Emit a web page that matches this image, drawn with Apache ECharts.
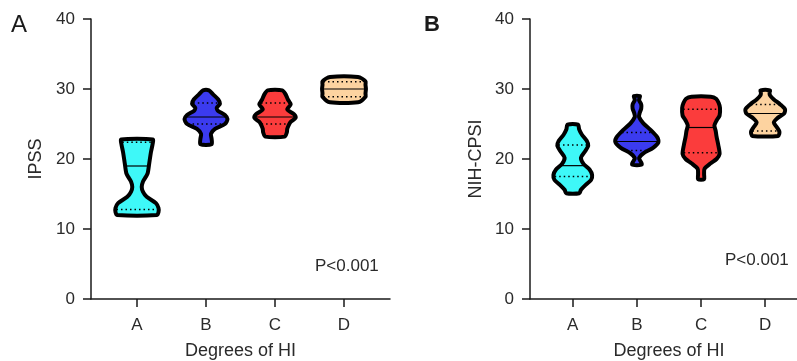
<!DOCTYPE html>
<html>
<head>
<meta charset="utf-8">
<script src="https://cdn.jsdelivr.net/npm/echarts@6/dist/echarts.min.js"></script>
<style>
  html, body { margin: 0; padding: 0; background: #fff; }
  #main { width: 797px; height: 361px; }
</style>
</head>
<body>
<div id="main"></div>
<script>
// categories
var cats = ['A', 'B', 'C', 'D'];

// violin outlines: [value, relative half width]
var ipssA = [[12.0,0.93],[12.4,1.0],[13.0,1.0],[13.7,0.88],[14.6,0.45],[15.3,0.28],[16.0,0.22],[16.8,0.28],[17.5,0.42],[18.0,0.5],[19.4,0.57],[21.0,0.65],[22.2,0.73],[22.8,0.73]];
var ipssB = [[22.1,0.26],[22.9,0.26],[23.6,0.23],[24.3,0.42],[25.0,0.88],[25.7,1.0],[26.3,0.88],[26.9,0.55],[27.3,0.5],[27.9,0.65],[28.5,0.57],[29.2,0.34],[29.8,0.14]];
var ipssC = [[23.2,0.45],[23.8,0.55],[24.3,0.57],[24.9,0.65],[25.3,0.73],[25.9,0.96],[26.4,0.88],[27.1,0.57],[27.8,0.73],[28.5,0.6],[29.2,0.5],[29.8,0.34]];
var ipssD = [[28.1,0.65],[28.9,1.0],[29.4,1.0],[30.0,1.02],[30.6,1.0],[31.1,1.0],[31.7,0.65]];

var cpsiA = [[15.1,0.3],[15.6,0.38],[16.3,0.6],[17.0,0.85],[17.7,0.9],[18.5,0.78],[19.3,0.5],[20.2,0.38],[21.0,0.55],[21.9,0.72],[22.6,0.65],[23.5,0.42],[24.2,0.3],[24.9,0.24]];
var cpsiB = [[19.2,0.22],[19.5,0.2],[20.1,0.1],[20.8,0.3],[21.6,0.75],[22.4,1.0],[23.1,0.95],[24.2,0.62],[25.1,0.3],[26.0,0.1],[26.5,0.12],[27.2,0.2],[27.8,0.2],[28.4,0.1],[28.7,0.12],[29.0,0.14]];
var cpsiC = [[17.1,0.14],[17.8,0.14],[18.6,0.16],[19.4,0.45],[20.0,0.72],[20.7,0.86],[22.0,0.8],[23.2,0.72],[24.0,0.68],[24.8,0.62],[25.5,0.72],[26.2,0.86],[27.3,0.88],[28.0,0.82],[28.6,0.7],[28.9,0.45]];
var cpsiD = [[23.3,0.6],[23.9,0.66],[24.5,0.55],[25.2,0.4],[25.8,0.55],[26.5,0.88],[27.1,0.92],[27.8,0.7],[28.5,0.4],[29.1,0.22],[29.5,0.2],[29.8,0.22]];

// quartiles: [Q1, median, Q3]
var ipssQuart = [[12.8,19.0,22.4],[25.0,26.0,28.0],[25.0,26.0,28.0],[28.9,30.0,31.05]];
var cpsiQuart = [[17.5,19.05,22.0],[21.2,22.5,23.8],[20.9,24.5,27.1],[24.0,26.5,27.8]];

var fills = ['#3ef8f8', '#3b3bef', '#fb3c3c', '#fdd3a0'];

var HALF = 21.5;   // px half width of the widest part

function widthAt(pts, v) {
    for (var i = 0; i < pts.length - 1; i++) {
        if (v >= pts[i][0] && v <= pts[i + 1][0]) {
            var t = (v - pts[i][0]) / (pts[i + 1][0] - pts[i][0]);
            return pts[i][1] + t * (pts[i + 1][1] - pts[i][1]);
        }
    }
    return v < pts[0][0] ? pts[0][1] : pts[pts.length - 1][1];
}

function makeRender(outlines, quarts) {
    return function (params, api) {
        var i = params.dataIndex;
        var pts = outlines[i];
        var x = api.value(0);
        var right = pts.map(function (p) {
            var c = api.coord([x, p[0]]);
            return [c[0] + p[1] * HALF, c[1]];
        });
        var left = pts.slice().reverse().map(function (p) {
            var c = api.coord([x, p[0]]);
            return [c[0] - p[1] * HALF, c[1]];
        });
        var children = [{
            type: 'polygon',
            shape: { points: right.concat(left), smooth: 0.25 },
            style: { fill: fills[i], stroke: '#000', lineWidth: 4, lineJoin: 'round' }
        }];
        quarts[i].forEach(function (q, k) {
            var c = api.coord([x, q]);
            var w = widthAt(pts, q) * HALF - 1;
            children.push({
                type: 'line',
                shape: { x1: c[0] - w, y1: c[1], x2: c[0] + w, y2: c[1] },
                style: k === 1
                    ? { stroke: '#000', lineWidth: 1.2 }
                    : { stroke: '#000', lineWidth: 1.5, lineDash: [1.5, 3] }
            });
        });
        return { type: 'group', children: children };
    };
}

var chart = echarts.init(document.getElementById('main'));

var axisText = { color: '#2a2a2a', fontSize: 17, fontFamily: 'Liberation Sans' };
var axisLine = { lineStyle: { color: '#1a1a1a', width: 1.5 } };

function xAx(idx) {
    return {
        type: 'value', gridIndex: idx, min: 1 / 3, max: 14 / 3,
        name: 'Degrees of HI', nameLocation: 'middle', nameGap: 43,
        nameTextStyle: { color: '#2a2a2a', fontSize: 18, fontFamily: 'Liberation Sans' },
        axisLine: { show: true, onZero: false, lineStyle: axisLine.lineStyle },
        axisTick: { show: true, length: 8, customValues: [1, 2, 3, 4], lineStyle: axisLine.lineStyle },
        axisLabel: Object.assign({ customValues: [1, 2, 3, 4], margin: 18, formatter: function (v) { return cats[v - 1]; } }, axisText),
        splitLine: { show: false }
    };
}
function yAx(idx, name, gap) {
    return {
        type: 'value', gridIndex: idx, min: 0, max: 40, interval: 10,
        name: name, nameLocation: 'middle', nameGap: gap,
        nameTextStyle: { color: '#2a2a2a', fontSize: 18, fontFamily: 'Liberation Sans' },
        axisLine: { show: true, onZero: false, lineStyle: axisLine.lineStyle },
        axisTick: { show: true, length: 8, lineStyle: axisLine.lineStyle },
        axisLabel: Object.assign({ margin: 16 }, axisText),
        splitLine: { show: false }
    };
}

var option = {
    animation: false,
    grid: [
        { left: 91, top: 19, width: 299, height: 280, outerBoundsMode: 'none', containLabel: false },
        { left: 530, top: 19, width: 278, height: 280, outerBoundsMode: 'none', containLabel: false }
    ],
    xAxis: [xAx(0), xAx(1)],
    yAxis: [yAx(0, 'IPSS', 46), yAx(1, 'NIH-CPSI', 45)],
    graphic: [
        { type: 'text', left: 11, top: 13, style: { text: 'A', fontSize: 24, fill: '#1a1a1a', fontFamily: 'Liberation Sans' } },
        { type: 'text', left: 424, top: 14, style: { text: 'B', fontSize: 22, fontWeight: 'bold', fill: '#1a1a1a', fontFamily: 'Liberation Sans' } },
        { type: 'text', left: 315, top: 258, style: { text: 'P<0.001', fontSize: 17, fill: '#2a2a2a', fontFamily: 'Liberation Sans' } },
        { type: 'text', left: 725, top: 252, style: { text: 'P<0.001', fontSize: 17, fill: '#2a2a2a', fontFamily: 'Liberation Sans' } }
    ],
    series: [
        {
            type: 'custom', xAxisIndex: 0, yAxisIndex: 0,
            renderItem: makeRender([ipssA, ipssB, ipssC, ipssD], ipssQuart),
            data: [[1], [2], [3], [4]]
        },
        {
            type: 'custom', xAxisIndex: 1, yAxisIndex: 1,
            renderItem: makeRender([cpsiA, cpsiB, cpsiC, cpsiD], cpsiQuart),
            data: [[1], [2], [3], [4]]
        }
    ]
};

chart.setOption(option);
</script>
</body>
</html>
